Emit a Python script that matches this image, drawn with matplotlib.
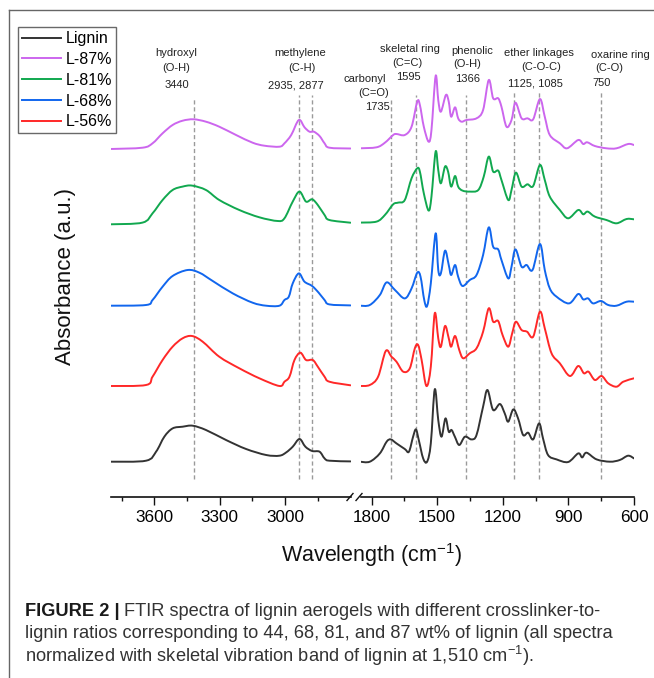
import matplotlib
matplotlib.use('Agg')
import matplotlib.pyplot as plt
from matplotlib.lines import Line2D
from matplotlib.path import Path
from matplotlib.patches import PathPatch
import numpy as np

plt.rcParams['font.family'] = ['Liberation Sans', 'DejaVu Sans']
plt.rcParams['mathtext.fontset'] = 'custom'
plt.rcParams['mathtext.rm'] = 'Liberation Sans'
plt.rcParams['mathtext.it'] = 'Liberation Sans:italic'
plt.rcParams['mathtext.bf'] = 'Liberation Sans:bold'

# ---------------- data ----------------
series_names = ["Lignin", "L-87%", "L-81%", "L-68%", "L-56%"]
series_colors = ["#333333", "#CC66EE", "#11A84F", "#1166EE", "#FF2828"]
series_offsets = [35.3, 348.0, 272.7, 191.3, 111.0]

l87_wn = [3800, 3654, 3608, 3562, 3516, 3470, 3420, 3363, 3302, 3225, 3149, 3095, 3026, 3003, 2972,
          2937, 2911, 2888, 2868, 2842, 2819, 2797, 2700,
          1853, 1777, 1739, 1701, 1686, 1648, 1617, 1591, 1579, 1561, 1539, 1526, 1507, 1495, 1483,
          1460, 1447, 1436, 1418, 1404, 1388, 1366, 1320, 1290, 1264, 1244, 1221, 1206, 1183, 1160,
          1142, 1114, 1087, 1061, 1030, 1008, 985, 939, 906, 855, 832, 814, 779, 726, 680, 627, 600]
l87_abs = [0, 1.3, 5.7, 15.7, 24, 28.3, 29.7, 27.3, 22.3, 14, 6.3, 3.3, 2.3, 5.7, 14,
           29, 21.7, 17.3, 17.3, 13, 5.7, 1.3, 0.5,
           0.7, 1.7, 6.3, 14, 15, 14, 22.3, 47.3, 44, 22.3, 7.3, 19, 73, 49, 37.3,
           54, 47.3, 32.3, 41.7, 30.7, 27.3, 29, 30.7, 39, 69, 50.7, 50.7, 42.3, 22.3, 29,
           46.3, 30.7, 30.7, 29.7, 50, 32.3, 14, 5.7, 0.7, 9, 5, 6.7, 3, 0.7, 0.7, 5, 4]

l81_wn = [3800, 3654, 3608, 3562, 3516, 3470, 3427, 3363, 3302, 3210, 3118, 3034, 3003, 2965, 2934,
          2904, 2876, 2850, 2819, 2797, 2700,
          1853, 1777, 1739, 1701, 1678, 1648, 1617, 1591, 1579, 1561, 1539, 1526, 1507, 1495, 1483,
          1464, 1450, 1436, 1418, 1404, 1384, 1351, 1312, 1287, 1264, 1244, 1221, 1206, 1175, 1160,
          1140, 1114, 1087, 1061, 1030, 1008, 985, 939, 901, 855, 832, 812, 779, 726, 680, 634, 600]
l81_abs = [0, 1.7, 11, 24.3, 34.3, 37.7, 38.7, 34.3, 24.3, 14.3, 7, 3.3, 6, 22.7, 32.7,
           22.7, 25, 19.3, 9.3, 4.3, 1.6,
           1.7, 2.7, 9.3, 20, 21.7, 24.3, 46, 56, 52.7, 31, 13.7, 27.7, 72.7, 54.3, 41,
           57.7, 52.7, 37.7, 48.3, 37.7, 33.7, 32.7, 34.3, 47.7, 67.7, 52.7, 53.7, 44.3, 24.3, 34.3,
           51.7, 37.7, 40, 38.3, 59.3, 44.3, 27.7, 14.3, 6, 14.3, 10, 12.7, 7.7, 4.3, 1, 5.3, 5]

l68_wn = [3800, 3638, 3608, 3562, 3516, 3447, 3393, 3332, 3240, 3149, 3087, 3026, 3003, 2983, 2965,
          2937, 2911, 2876, 2846, 2819, 2797, 2700,
          1853, 1808, 1762, 1731, 1693, 1648, 1617, 1591, 1576, 1559, 1546, 1529, 1507, 1495, 1483,
          1464, 1447, 1436, 1418, 1404, 1384, 1351, 1320, 1290, 1264, 1244, 1221, 1206, 1175, 1160,
          1142, 1114, 1091, 1064, 1030, 1008, 985, 954, 897, 855, 832, 810, 787, 751, 718, 680, 634, 600]
l68_abs = [0, 0.7, 5.7, 19, 29.7, 35.7, 33, 24.7, 12.3, 3, 0, 0, 5.7, 9, 22.3,
           32.3, 24, 19.7, 13, 5.7, 1.3, 0.3,
           0, 0.7, 10.7, 23.3, 15.7, 7.3, 17.3, 33, 29, 5.7, -0.3, 22.3, 72.3, 35.7, 32.3,
           55, 40.7, 30.7, 40.7, 29, 19.7, 25.7, 30.7, 50.7, 78.3, 59, 56.3, 45.7, 27.3, 39,
           56.3, 39, 40.7, 35.7, 61.7, 35.7, 17.3, 9, 2.3, 11.7, 6.3, 7.3, 2.3, 4.7, 0.7, 0, 4, 4]

l56_wn = [3800, 3638, 3608, 3562, 3516, 3470, 3427, 3378, 3302, 3210, 3118, 3026, 3003, 2980, 2957,
          2930, 2904, 2873, 2850, 2819, 2797, 2700,
          1853, 1808, 1770, 1735, 1709, 1686, 1655, 1625, 1602, 1587, 1571, 1549, 1529, 1511, 1495,
          1483, 1464, 1447, 1436, 1418, 1399, 1381, 1351, 1320, 1290, 1264, 1244, 1221, 1201, 1175,
          1157, 1140, 1114, 1089, 1061, 1030, 1008, 977, 939, 893, 855, 829, 808, 779, 748, 718, 680,
          649, 600]
l56_abs = [0, 1, 9.3, 26, 39.3, 47.7, 50, 44.3, 29.3, 17.7, 7.7, 0, 4.3, 9.3, 26,
           33.3, 26, 26, 19.3, 9.3, 4.3, 0.7,
           0, 1, 9.3, 35, 29.3, 24.3, 14.3, 17.7, 37.7, 41, 26, 0, 19.3, 72.7, 47.7,
           39.3, 60, 47.7, 39.3, 50, 36, 27.7, 32.7, 37.7, 54.3, 77.7, 64.3, 65, 51, 39.3,
           52.7, 64.3, 56, 54.3, 49.3, 74.3, 57.7, 32.7, 22.7, 10, 20, 12.7, 14.3, 6, 10, 2.7, -0.7,
           4.3, 7.7]

lignin_wn = [3800, 3638, 3592, 3554, 3516, 3470, 3424, 3363, 3271, 3179, 3087, 3026, 2995, 2965, 2934,
             2907, 2876, 2842, 2819, 2797, 2700,
             1853, 1808, 1762, 1731, 1712, 1686, 1648, 1629, 1610, 1597, 1584, 1564, 1546, 1529, 1511,
             1495, 1480, 1462, 1447, 1434, 1419, 1399, 1373, 1343, 1320, 1290, 1270, 1244, 1213, 1191,
             1175, 1152, 1130, 1107, 1084, 1061, 1034, 1016, 993, 954, 901, 855, 837, 817, 771, 710,
             665, 627, 600]
lignin_abs = [0, 1, 10, 25, 33.3, 35, 36, 31.7, 21.7, 12.7, 6.7, 6, 9.3, 15, 22.7,
              15, 10.7, 10, 3.3, 1, 0.3,
              0, 0, 8.3, 20, 22.3, 18.3, 12.7, 10, 25, 32.3, 21.7, 3.3, 0, 18.3, 72.3,
              41.7, 25, 43.3, 30, 31.7, 25, 16.7, 25, 22.3, 26.7, 55, 71.7, 51.7, 57.7, 48.3,
              40, 52.3, 43.3, 26.7, 29, 22.3, 38.3, 23.3, 6.7, 2.3, -0.3, 8.3, 4.3, 9, 2.3, 0,
              1.7, 6, 3.3]

band_names = [["hydroxyl", "(O-H)", "3440"],
              ["methylene", "(C-H)", "2935, 2877"],
              ["carbonyl", "(C=O)", "1735"],
              ["skeletal ring", "(C=C)", "1595"],
              ["phenolic", "(O-H)", "1366"],
              ["ether linkages", "(C-O-C)", "1125, 1085"],
              ["oxarine ring", "(C-O)", "750"]]
band_lines = [3420, 2935, 2877, 1710, 1595, 1366, 1148, 1033, 750]

left_ticks = [3600, 3300, 3000]
right_ticks = [1800, 1500, 1200, 900, 600]

# ---------------- figure ----------------
W, H = 654, 678
fig = plt.figure(figsize=(W / 100, H / 100), dpi=100)

def fx(px):
    return px / W

def fy(py):
    return 1 - py / H

def smooth_line(ax, x, y, color, lw):
    """Draw a smooth (Catmull-Rom style Bezier) stroke through the given points."""
    pts = np.column_stack([x, y])
    n = len(pts)
    verts = [pts[0]]
    codes = [Path.MOVETO]
    for i in range(n - 1):
        p0 = pts[i - 1] if i > 0 else pts[i]
        p1 = pts[i]
        p2 = pts[i + 1]
        p3 = pts[i + 2] if i + 2 < n else pts[i + 1]
        c1 = p1 + (p2 - p0) / 6.0
        c2 = p2 - (p3 - p1) / 6.0
        verts += [c1, c2, p2]
        codes += [Path.CURVE4] * 3
    patch = PathPatch(Path(verts, codes), facecolor='none', edgecolor=color, lw=lw,
                      zorder=3, capstyle='round', joinstyle='round')
    ax.add_patch(patch)

ax_bottom, ax_top = 497, 20
axL = fig.add_axes([fx(110.7), fy(ax_bottom), fx(350.5) - fx(110.7), (ax_bottom - ax_top) / H])
axR = fig.add_axes([fx(360.6), fy(ax_bottom), fx(634) - fx(360.6), (ax_bottom - ax_top) / H])
axL.set_xlim(3800, 2700)
axR.set_xlim(1850, 600)
for ax in (axL, axR):
    ax.set_ylim(0, ax_bottom - ax_top)
    ax.patch.set_alpha(0)
    for s in ('top', 'left', 'right'):
        ax.spines[s].set_visible(False)
    ax.spines['bottom'].set_linewidth(1.2)
    ax.spines['bottom'].set_color('#111111')
    ax.set_yticks([])
    ax.tick_params(axis='x', which='major', direction='out', length=5.5, width=1.0,
                   labelsize=12.3, pad=4, color='#111111')
    ax.tick_params(axis='x', which='minor', direction='out', length=3, width=1.0, color='#111111')

axL.set_xticks(left_ticks)
axL.set_xticks([3750, 3450, 3150, 2850], minor=True)
axR.set_xticks(right_ticks)
axR.set_xticks([1650, 1350, 1050, 750], minor=True)

# dashed band markers
dash_tops = [399, 402, 402, 397, 402, 402, 405, 405, 405]
for wn, top in zip(band_lines, dash_tops):
    ax = axL if wn > 2000 else axR
    ax.vlines(wn, 18, top, colors='#9a9a9a', linestyles=(0, (3, 2)), linewidth=1.0, zorder=1)

wn_list = [lignin_wn, l87_wn, l81_wn, l68_wn, l56_wn]
abs_list = [lignin_abs, l87_abs, l81_abs, l68_abs, l56_abs]
handles = []
for name, col, off, wn, ab in zip(series_names, series_colors, series_offsets, wn_list, abs_list):
    wn = np.array(wn, dtype=float)
    ab = np.array(ab, dtype=float) + off
    mL = wn >= 2700
    mR = wn <= 1860
    smooth_line(axL, wn[mL], ab[mL], col, 1.4)
    smooth_line(axR, wn[mR], ab[mR], col, 1.4)
    handles.append(Line2D([], [], color=col, lw=1.4, label=name))

# axis break marks
for x0 in (347, 356):
    fig.add_artist(Line2D([fx(x0), fx(x0 + 6)], [fy(500.5), fy(493.5)], color='#111111', lw=1.0))

# band annotations
band_pos = [[(176, 53.3), (176, 67.7), (176.7, 85)],
            [(300, 53.3), (301.7, 67.7), (296, 85)],
            [(364.7, 79.3), (373.3, 93.3), (377.5, 107.3)],
            [(410, 49.3), (407.3, 63.3), (408.3, 76.7)],
            [(472, 50.7), (466.7, 64), (467.5, 79.3)],
            [(539.3, 53.3), (540.7, 66.7), (535, 83.3)],
            [(620.7, 55), (609.3, 68.3), (602, 83.3)]]
for lines, poss in zip(band_names, band_pos):
    for txt, (px, py) in zip(lines, poss):
        fig.text(fx(px), fy(py), txt, fontsize=8, color='#222222', ha='center', va='center')

# axis labels
fig.text(fx(65), fy(277), 'Absorbance (a.u.)', rotation=90, fontsize=16, ha='center', va='center',
         color='#111111')
fig.text(fx(372), fy(555), r'Wavelength (cm$^{-1}$)', fontsize=15.5, ha='center', va='center',
         color='#111111')

# legend
leg = fig.legend(handles=handles, loc='upper left',
                 bbox_to_anchor=(fx(18.3), fy(27.3)), borderaxespad=0, frameon=True,
                 fancybox=False, edgecolor='#444444', fontsize=11.5, handlelength=2.4,
                 handletextpad=0.3, labelspacing=0.36, borderpad=0.25)
leg.get_frame().set_linewidth(1.0)

# outer frame
fig.add_artist(Line2D([fx(9.3), 1.0], [fy(10), fy(10)], color='#666666', lw=1.0))
fig.add_artist(Line2D([fx(9.3), fx(9.3)], [fy(10), 0.0], color='#666666', lw=1.0))

# caption
renderer = fig.canvas.get_renderer()
cap2 = 'lignin ratios corresponding to 44, 68, 81, and 87 wt% of lignin (all spectra'
probe = fig.text(0, 0, cap2, fontsize=10)
wprobe = probe.get_window_extent(renderer).width
probe.remove()
cap_fs = 10 * 590 / wprobe
cap_x = 25
t1 = fig.text(fx(cap_x), fy(611), 'FIGURE 2 |', fontsize=cap_fs, fontweight='bold',
              color='#1a1a1a', va='center')
bb = t1.get_window_extent(renderer)
fig.text((bb.x1 + 4) / W, fy(611),
         'FTIR spectra of lignin aerogels with different crosslinker-to-',
         fontsize=cap_fs, color='#333333', va='center')
fig.text(fx(cap_x), fy(634), cap2, fontsize=cap_fs, color='#333333', va='center')
fig.text(fx(cap_x), fy(656), r'normalized with skeletal vibration band of lignin at 1,510 cm$^{-1}$).',
         fontsize=cap_fs, color='#333333', va='center')

fig.savefig('out.png', dpi=100)
